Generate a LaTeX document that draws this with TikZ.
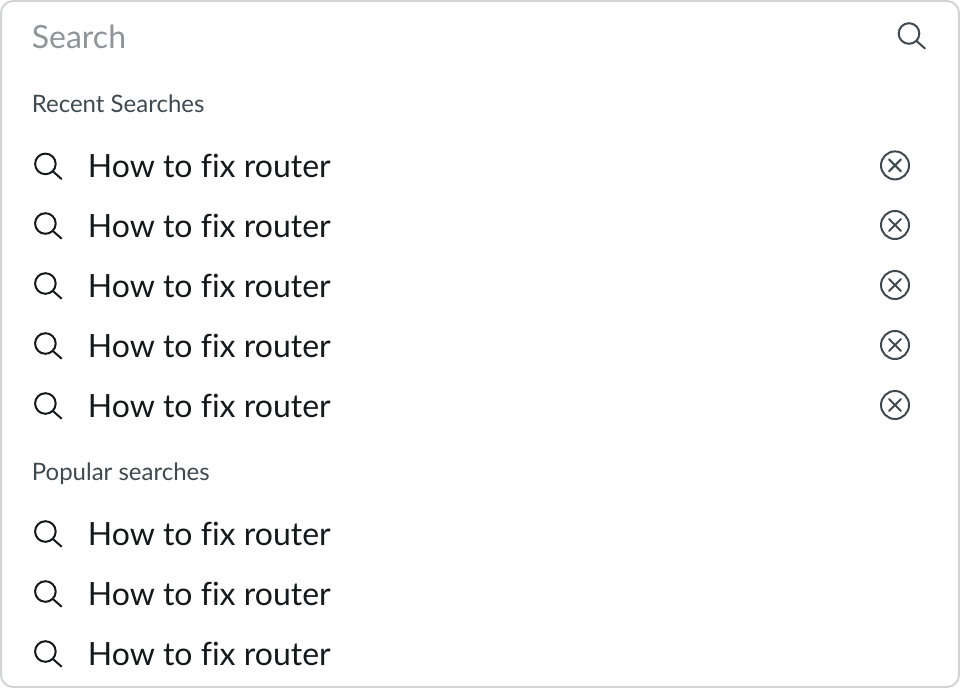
\documentclass[tikz,border=0pt]{standalone}
\usepackage{fontspec}
\setmainfont[Ligatures=NoCommon]{Lato}
\definecolor{framegray}{HTML}{CFD4D7}
\definecolor{hintgray}{HTML}{8F9599}
\definecolor{headgray}{HTML}{3F4A50}
\definecolor{itemblack}{HTML}{14191C}
\tikzset{
  hint/.style={anchor=base west,inner sep=0pt,text=hintgray,font=\fontsize{24}{28}\selectfont},
  head/.style={anchor=base west,inner sep=0pt,text=headgray,font=\fontsize{18}{22}\selectfont},
  item/.style={anchor=base west,inner sep=0pt,text=itemblack,font=\fontsize{24}{28}\selectfont},
  lens/.pic={\draw[line width=1.5pt,line cap=round,pic actions] (0,0) circle (10.3) (7.3,7.3) -- (16,15);},
  cancel/.pic={\draw[line width=1.5pt,line cap=round,headgray] (0,0) circle (14) (-6,-6) -- (6,6) (-6,6) -- (6,-6);}
}
\begin{document}
\begin{tikzpicture}[x=0.75pt,y=-0.75pt]
\useasboundingbox (0,0) rectangle (960,688);
\draw[framegray,line width=1.5pt,fill=white,rounded corners=9pt] (1,1) rectangle (959,687);
\node[hint] (search) at (31.6,49) {Search};
\pic[headgray] at (909,33.5) {lens};
\node[head] (recent) at (31.6,112.6) {Recent Searches};
\foreach \y in {177.4,237,297,357,417}{
  \pic[itemblack] at (45.4,\y-13.5) {lens};
  \node[item] (item\y) at (87.6,\y) {How to fix router};
  \pic at (895,\y-12) {cancel};
}
\node[head] (popular) at (31.6,480) {Popular searches};
\foreach \y in {545,605,665}{
  \pic[itemblack] at (45.4,\y-13.5) {lens};
  \node[item] (item\y) at (87.6,\y) {How to fix router};
}
\end{tikzpicture}
\end{document}
